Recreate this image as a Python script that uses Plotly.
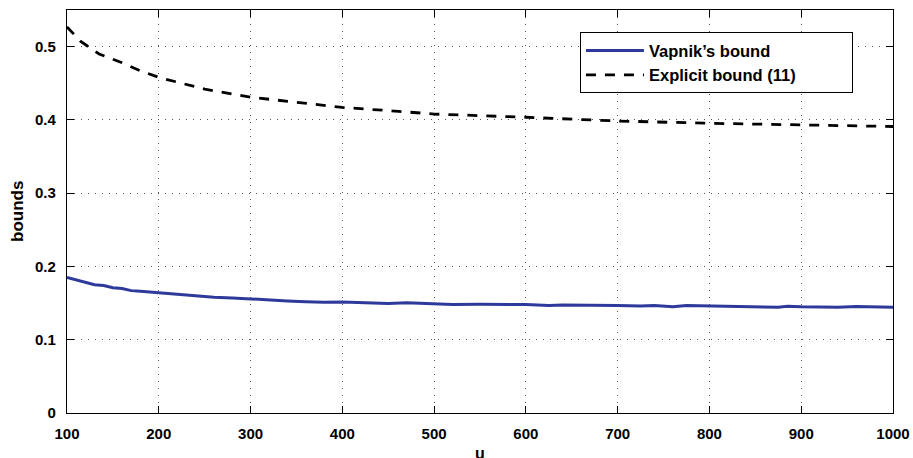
import plotly.graph_objects as go

# Data
vap_u = [100, 110, 120, 130, 140, 150, 160, 170, 180, 190, 200, 220, 240, 260, 280,
         300, 320, 340, 360, 380, 400, 420, 450, 470, 500, 520, 550, 600, 625, 640,
         700, 725, 740, 760, 775, 800, 850, 875, 885, 900, 940, 960, 1000]
vap_b = [0.185, 0.182, 0.178, 0.175, 0.174, 0.171, 0.170, 0.167, 0.166, 0.165, 0.1635,
         0.161, 0.160, 0.158, 0.157, 0.156, 0.155, 0.153, 0.152, 0.151, 0.1515, 0.1505,
         0.1495, 0.1505, 0.1494, 0.148, 0.1485, 0.148, 0.1467, 0.1475, 0.1467, 0.146,
         0.1467, 0.145, 0.1467, 0.146, 0.1453, 0.1442, 0.1457, 0.145, 0.1444, 0.1453, 0.1444]

exp_u = [100, 115, 135, 160, 180, 200, 250, 300, 350, 400, 450, 500, 600, 700, 800, 900, 1000]
exp_b = [0.527, 0.507, 0.490, 0.478, 0.467, 0.458, 0.442, 0.431, 0.424, 0.417, 0.4127,
         0.408, 0.4036, 0.3985, 0.3954, 0.393, 0.391]

x_ticks = [100, 200, 300, 400, 500, 600, 700, 800, 900, 1000]
y_ticks = [0, 0.1, 0.2, 0.3, 0.4, 0.5]
y_tick_text = ["0", "0.1", "0.2", "0.3", "0.4", "0.5"]

series_names = ["Vapnik’s bound", "Explicit bound (11)"]

FONT = "Liberation Sans, Arial, Helvetica, sans-serif"
PAD = "\u00a0" * 11  # widen legend box like the reference

fig = go.Figure()
fig.add_trace(go.Scatter(x=vap_u, y=vap_b, mode="lines", name=series_names[0] + PAD,
                         legendgroup="a",
                         line=dict(color="#2E3A9B", width=3)))
fig.add_trace(go.Scatter(x=exp_u, y=exp_b, mode="lines", name=series_names[1] + PAD,
                         legendgroup="b",
                         line=dict(color="black", width=2.8, dash="10px,9px")))

axis_common = dict(
    showline=True, linecolor="black", linewidth=1.3, mirror="ticks",
    ticks="inside", ticklen=7, tickcolor="black", tickwidth=1,
    showgrid=True, gridcolor="#555555", gridwidth=1, griddash="1px,6px",
    zeroline=False, automargin=False,
    tickfont=dict(family=FONT, size=15, color="black", weight="bold"),
)

fig.update_layout(
    width=913, height=458,
    margin=dict(l=67, r=20, t=10, b=45, autoexpand=False),
    paper_bgcolor="white", plot_bgcolor="white",
    showlegend=True,
    legend=dict(x=0.621, y=0.945, xanchor="left", yanchor="top",
                bgcolor="white", bordercolor="black", borderwidth=1,
                font=dict(family=FONT, size=16.5, color="black", weight="bold"),
                itemwidth=58, tracegroupgap=0),
    xaxis=dict(range=[100, 1000], tickvals=x_ticks, ticklabelstandoff=7, **axis_common),
    yaxis=dict(range=[0, 0.55], tickvals=y_ticks, ticktext=y_tick_text,
               ticklabelstandoff=7, **axis_common),
)

fig.add_annotation(text="bounds", xref="paper", yref="paper", x=0, y=0.5,
                   xshift=-61, textangle=-90, showarrow=False,
                   font=dict(family=FONT, size=17, color="black", weight="bold"))
fig.add_annotation(text="u", xref="paper", yref="paper", x=0.5, y=0,
                   yshift=-30, yanchor="top", showarrow=False,
                   font=dict(family=FONT, size=16, color="black", weight="bold"))

fig.write_html("out.html", config={"displayModeBar": False},
               post_script="document.body.style.margin='0';document.body.style.padding='0';")
